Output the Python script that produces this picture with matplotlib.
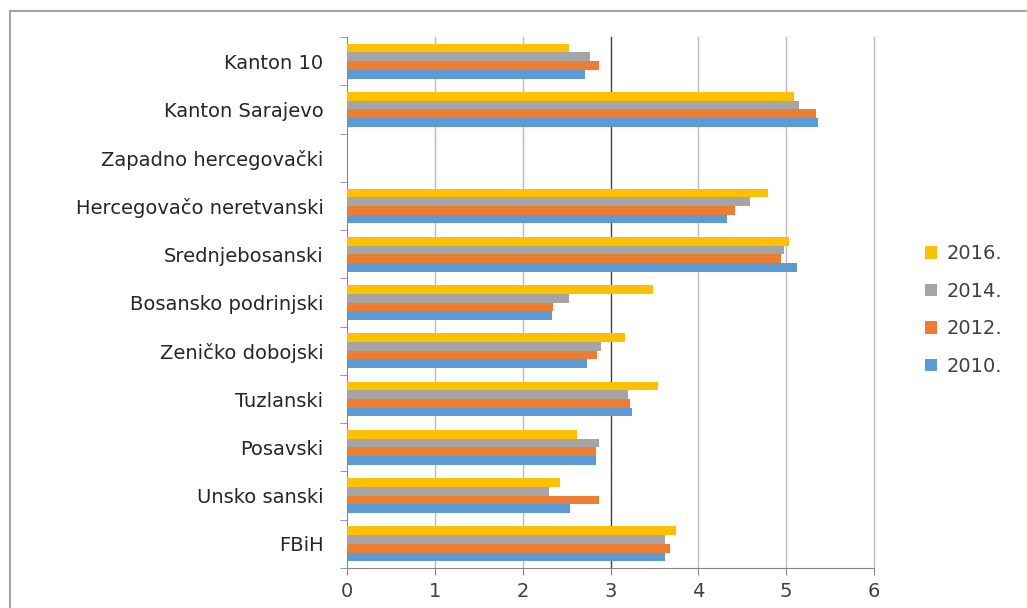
import matplotlib.pyplot as plt
import numpy as np
from matplotlib.patches import Rectangle

# data (bottom to top)
regions = ['FBiH', 'Unsko sanski', 'Posavski', 'Tuzlanski', 'Zeničko dobojski',
           'Bosansko podrinjski', 'Srednjebosanski', 'Hercegovačo neretvanski',
           'Zapadno hercegovački', 'Kanton Sarajevo', 'Kanton 10']
y2010 = [3.62, 2.54, 2.84, 3.25, 2.73, 2.33, 5.12, 4.33, 0, 5.36, 2.71]
y2012 = [3.68, 2.87, 2.83, 3.22, 2.85, 2.35, 4.94, 4.42, 0, 5.34, 2.87]
y2014 = [3.62, 2.30, 2.87, 3.20, 2.89, 2.53, 4.97, 4.59, 0, 5.15, 2.77]
y2016 = [3.75, 2.43, 2.62, 3.54, 3.17, 3.48, 5.03, 4.79, 0, 5.09, 2.53]
years = ['2010.', '2012.', '2014.', '2016.']
colors = ['#5B9BD5', '#ED7D31', '#A5A5A5', '#FFC000']

plt.rcParams['font.family'] = ['DejaVu Sans']

fig = plt.figure(figsize=(10.27, 6.08), dpi=100)
ax = fig.add_axes([347/1027, 1-568/608, (874-347)/1027, (568-37)/608])

# chart border (only top and left visible in the original)
fig.patches.append(Rectangle((10/1027, -0.1), 1.2, 1.1-11/608, transform=fig.transFigure,
                             fill=False, edgecolor='#A6A6A6', lw=1.5))

pos = np.arange(len(regions))
h = 0.18
handles = []
for i, (vals, c, lab) in enumerate(zip([y2010, y2012, y2014, y2016], colors, years)):
    b = ax.barh(pos - 1.5*h + i*h, vals, height=h, color=c, label=lab, zorder=3)
    handles.append(b)

ax.set_xlim(0, 6)
ax.set_ylim(-0.5, len(regions) - 0.5)
ax.set_xticks(range(7))
ax.set_yticks(pos)
ax.set_yticklabels(regions)
ax.set_yticks(np.arange(-0.5, len(regions)), minor=True)
ax.tick_params(axis='y', which='major', length=0, labelsize=14, pad=17, colors='#262626')
ax.tick_params(axis='y', which='minor', length=5, color='#888888')
ax.tick_params(axis='x', length=5, color='#888888', labelsize=14, labelcolor='#404040', pad=5)

for x in range(1, 7):
    ax.axvline(x, color='#404040' if x == 3 else '#BBBBBB', lw=1, zorder=1, clip_on=False)
for s in ['top', 'right']:
    ax.spines[s].set_visible(False)
ax.spines['left'].set_color('#888888')
ax.spines['bottom'].set_color('#888888')

fig.legend(handles[::-1], years[::-1], loc='center left', bbox_to_anchor=(0.884, 0.49),
           frameon=False, fontsize=14, handlelength=0.6, handleheight=0.6,
           labelspacing=0.95, handletextpad=0.5, labelcolor='#404040')

fig.savefig('out.png', dpi=100)
